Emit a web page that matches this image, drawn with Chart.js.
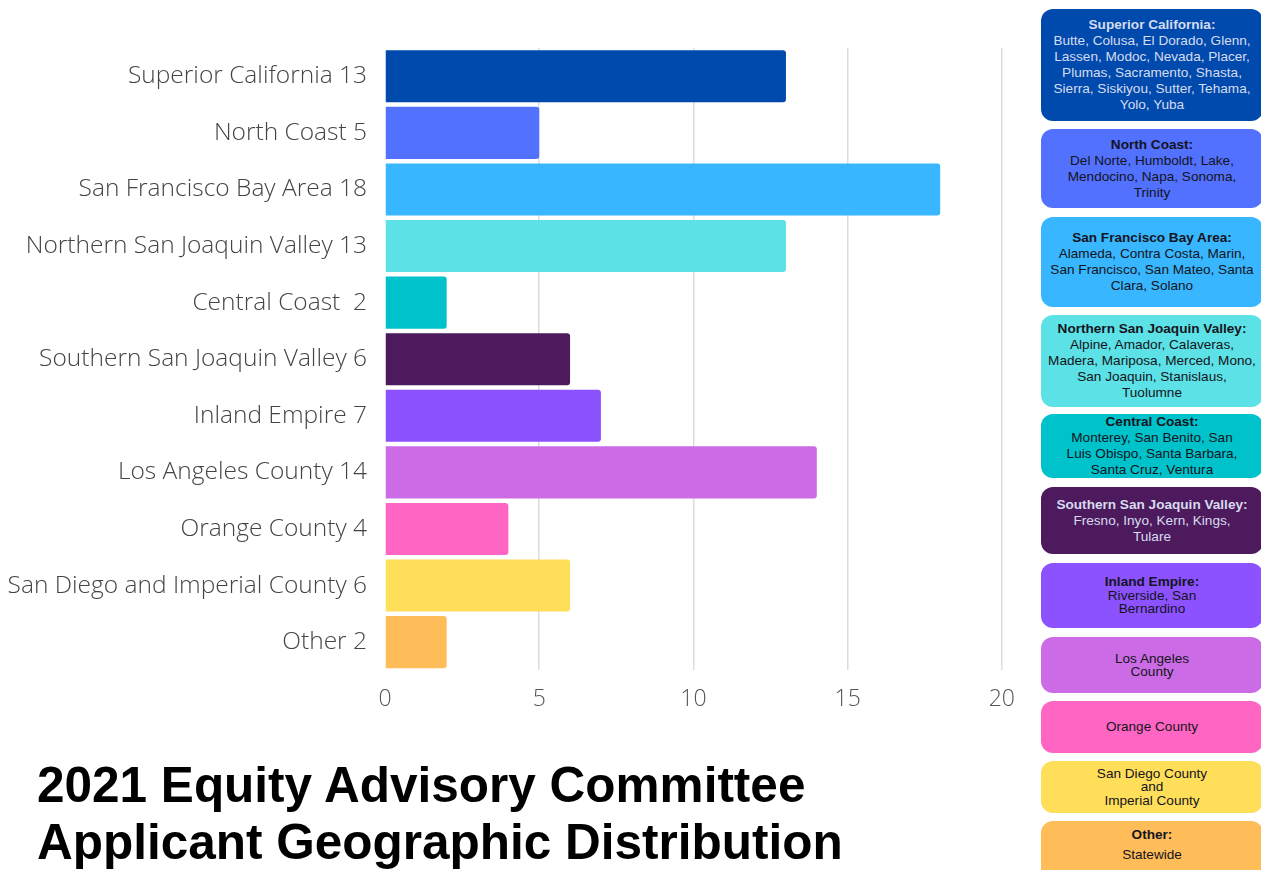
<!DOCTYPE html>
<html>
<head>
<meta charset="utf-8">
<script src="https://cdn.jsdelivr.net/npm/chart.js@4/dist/chart.umd.min.js"></script>
<style>
    html, body { margin: 0; padding: 0; background: #fff; }
    #page { position: relative; width: 1261px; height: 870px; overflow: hidden; background: #fff; }
    #chart-wrap { position: absolute; left: 0; top: 0; width: 1030px; height: 730px; }
    #title {
        position: absolute; left: 37px; top: 756px;
        font-family: "Liberation Sans", Arial, sans-serif; font-weight: bold;
        font-size: 49.5px; line-height: 57px; color: #000; white-space: nowrap;
    }
    .region-box {
        position: absolute; left: 1041px; width: 222px;
        border-radius: 12px;
        display: flex; flex-direction: column; justify-content: center; align-items: center;
        text-align: center;
        font-family: "Liberation Sans", Arial, sans-serif; font-size: 13.6px; line-height: 16px;
        color: #141420; box-sizing: border-box; padding: 0 2px;
        white-space: nowrap;
    }
    .region-box b { display: block; }
</style>
</head>
<body>
<div id="page">
    <div id="chart-wrap"><canvas id="region-chart"></canvas></div>
    <div id="title">2021 Equity Advisory Committee<br>Applicant Geographic Distribution</div>
    <div id="region-legend"></div>
</div>
<script>
var region_names = ['Superior California', 'North Coast', 'San Francisco Bay Area', 'Northern San Joaquin Valley',
    'Central Coast ', 'Southern San Joaquin Valley', 'Inland Empire', 'Los Angeles County', 'Orange County',
    'San Diego and Imperial County', 'Other'];
var applicant_counts = [13, 5, 18, 13, 2, 6, 7, 14, 4, 6, 2];
var bar_colors = ['#004aad', '#5271ff', '#38b6ff', '#5ce1e6', '#00c2cb', '#4e1a5e', '#8c52ff', '#cb6ce6',
    '#ff66c4', '#ffde59', '#ffbd59'];
var x_ticks = [0, 5, 10, 15, 20];

var box_titles = ['Superior California:', 'North Coast:', 'San Francisco Bay Area:', 'Northern San Joaquin Valley:',
    'Central Coast:', 'Southern San Joaquin Valley:', 'Inland Empire:', '', '', '', 'Other:'];
var box_texts = ['Butte, Colusa, El Dorado, Glenn,<br>Lassen, Modoc, Nevada, Placer,<br>Plumas, Sacramento, Shasta,<br>Sierra, Siskiyou, Sutter, Tehama,<br>Yolo, Yuba',
    'Del Norte, Humboldt, Lake,<br>Mendocino, Napa, Sonoma,<br>Trinity',
    'Alameda, Contra Costa, Marin,<br>San Francisco, San Mateo, Santa<br>Clara, Solano',
    'Alpine, Amador, Calaveras,<br>Madera, Mariposa, Merced, Mono,<br>San Joaquin, Stanislaus,<br>Tuolumne',
    'Monterey, San Benito, San<br>Luis Obispo, Santa Barbara,<br>Santa Cruz, Ventura',
    'Fresno, Inyo, Kern, Kings,<br>Tulare',
    'Riverside, San<br>Bernardino',
    'Los Angeles<br>County',
    'Orange County',
    'San Diego County<br>and<br>Imperial County',
    'Statewide'];
var box_tops = [9, 129, 217, 315, 414, 487, 563, 637, 701, 761, 821];
var box_heights = [112, 79, 90, 92, 64, 67, 65, 56, 52, 52, 60];

function BuildRegionLegend() {
    var legend = document.getElementById('region-legend');
    for (var i = 0; i < box_texts.length; i++) {
        var box = document.createElement('div');
        box.className = 'region-box';
        box.style.top = box_tops[i] + 'px';
        box.style.height = box_heights[i] + 'px';
        box.style.background = bar_colors[i];
        if (i === 0 || i === 5) {
            box.style.color = '#d6dcef';
        }
        if (i >= 6 && i <= 9) {
            box.style.lineHeight = '13.5px';
        }
        if (i === 10) {
            box.style.lineHeight = '20px';
            box.style.justifyContent = 'flex-start';
            box.style.paddingTop = '4px';
        }
        var html = '';
        if (box_titles[i]) {
            html += '<b>' + box_titles[i] + '</b>';
        }
        html += '<span>' + box_texts[i] + '</span>';
        box.innerHTML = html;
        legend.appendChild(box);
    }
}

var RegionChart;

function LoadRegionChart() {
    var ctx = document.getElementById('region-chart');
    RegionChart = new Chart(ctx, {
        type: 'bar',
        data: {
            labels: region_names,
            datasets: [{
                label: 'Applicants',
                data: applicant_counts,
                backgroundColor: bar_colors,
                borderWidth: 0,
                borderRadius: 3,
                barPercentage: 0.92,
                categoryPercentage: 1
            }]
        },
        options: {
            indexAxis: 'y',
            responsive: true,
            maintainAspectRatio: false,
            animation: false,
            layout: {
                padding: { top: 48, right: 28, bottom: 2, left: 0 }
            },
            plugins: {
                legend: false,
                tooltip: { enabled: false }
            },
            scales: {
                x: {
                    min: 0,
                    max: 20,
                    afterBuildTicks: function (scale) {
                        scale.ticks = x_ticks.map(function (v) { return { value: v }; });
                    },
                    border: { display: false },
                    grid: {
                        drawTicks: false,
                        lineWidth: 1.5,
                        color: function (c) {
                            return c.tick && c.tick.value === 0 ? 'rgba(0,0,0,0)' : '#dcdcdc';
                        }
                    },
                    ticks: {
                        padding: 15,
                        color: '#555',
                        font: { family: '"Open Sans"', size: 23, weight: '300' }
                    }
                },
                y: {
                    afterFit: function (scale) {
                        scale.width = 385;
                    },
                    border: { display: false },
                    grid: { display: false },
                    ticks: {
                        padding: 10,
                        color: '#444',
                        font: { family: '"Open Sans"', size: 24.5, weight: '300' },
                        callback: function (value, index) {
                            return region_names[index] + ' ' + applicant_counts[index];
                        }
                    }
                }
            }
        }
    });
}

BuildRegionLegend();
LoadRegionChart();
</script>
</body>
</html>
